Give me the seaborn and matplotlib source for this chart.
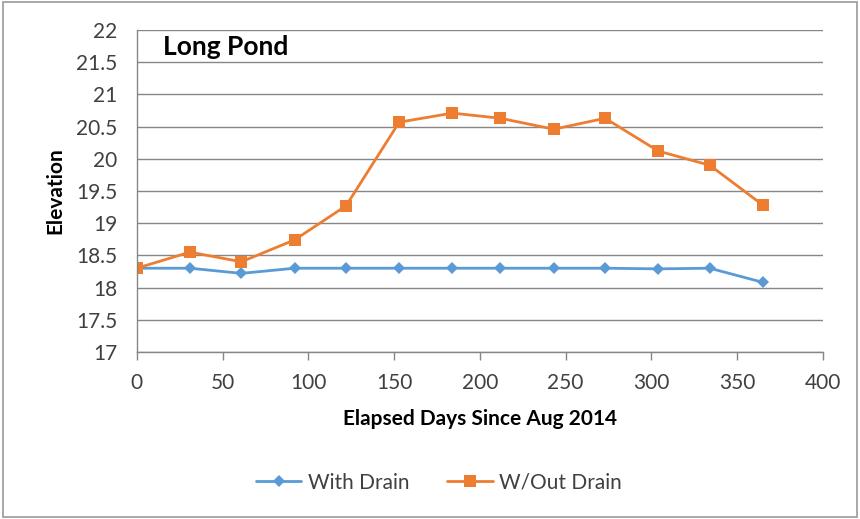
import matplotlib
matplotlib.use("Agg")
import matplotlib.pyplot as plt
import seaborn as sns
import pandas as pd
from matplotlib.patches import Rectangle
from matplotlib.lines import Line2D

# Days elapsed since August 2014
days = [0, 31, 61, 92, 122, 153, 184, 212, 243, 273, 304, 334, 365]
with_drain = [18.30, 18.30, 18.22, 18.30, 18.30, 18.30, 18.30, 18.30, 18.30, 18.30, 18.29, 18.30, 18.08]
without_drain = [18.30, 18.55, 18.40, 18.74, 19.27, 20.57, 20.71, 20.63, 20.46, 20.63, 20.12, 19.90, 19.28]
series_names = ["With Drain", "W/Out Drain"]
y_ticks = [17, 17.5, 18, 18.5, 19, 19.5, 20, 20.5, 21, 21.5, 22]
x_ticks = [0, 50, 100, 150, 200, 250, 300, 350, 400]

df = pd.DataFrame({
    "days": days * 2,
    "elev": with_drain + without_drain,
    "series": [series_names[0]] * len(days) + [series_names[1]] * len(days),
})

sns.set_theme(style="white")
plt.rcParams["font.family"] = ["Lato", "DejaVu Sans"]

fig = plt.figure(figsize=(8.6, 5.19), dpi=100)
ax = fig.add_axes([0.159, 0.322, 0.798, 0.620])

palette = {"With Drain": "#5B9BD5", "W/Out Drain": "#ED7D31"}
markers = {"With Drain": "D", "W/Out Drain": "s"}
sns.lineplot(data=df, x="days", y="elev", hue="series", style="series",
             palette=palette, markers=markers, dashes=False, ax=ax,
             linewidth=2, markersize=7, markeredgewidth=0, legend=False)
# square markers are larger than diamonds
for line, ms in zip(ax.get_lines(), [6, 9]):
    line.set_markersize(ms)

ax.set_xlim(0, 400)
ax.set_ylim(17, 22)
ax.set_yticks(y_ticks)
ax.set_yticklabels([f"{v:g}" for v in y_ticks])
ax.set_xticks(x_ticks)
ax.yaxis.grid(True, color="#868686", linewidth=1)
ax.set_axisbelow(True)

for s in ["top", "right"]:
    ax.spines[s].set_visible(False)
for s in ["left", "bottom"]:
    ax.spines[s].set_color("#868686")
    ax.spines[s].set_linewidth(1)

ax.tick_params(axis="y", length=0, labelsize=15, colors="#404040", pad=14)
ax.tick_params(axis="x", direction="out", length=6, width=1, color="#868686",
               labelsize=15, labelcolor="#404040", pad=9, bottom=True)

ax.set_xlabel("Elapsed Days Since Aug 2014", fontsize=15, fontweight="bold",
              color="#000000", labelpad=12)
ax.set_ylabel("Elevation", fontsize=15, fontweight="bold", color="#000000",
              labelpad=8)

ax.text(0.038, 0.985, "Long Pond", transform=ax.transAxes, fontsize=19,
        fontweight="bold", va="top", ha="left", color="#000000")

# legend below the axes
handles = [Line2D([0], [0], color=palette[n], marker=markers[n], linewidth=2,
                  markersize=(6 if n == "With Drain" else 8), markeredgewidth=0)
           for n in series_names]
fig.legend(handles, series_names, loc="center", bbox_to_anchor=(0.51, 0.07),
           ncol=2, frameon=False, fontsize=15, handlelength=2.2,
           columnspacing=1.8, handletextpad=0.3, labelcolor="#404040")

fig.patches.append(Rectangle((0.004, 0.004), 0.992, 0.992, transform=fig.transFigure,
                             fill=False, edgecolor="#9a9a9a", linewidth=1.2))

fig.savefig("out.png", dpi=100)
